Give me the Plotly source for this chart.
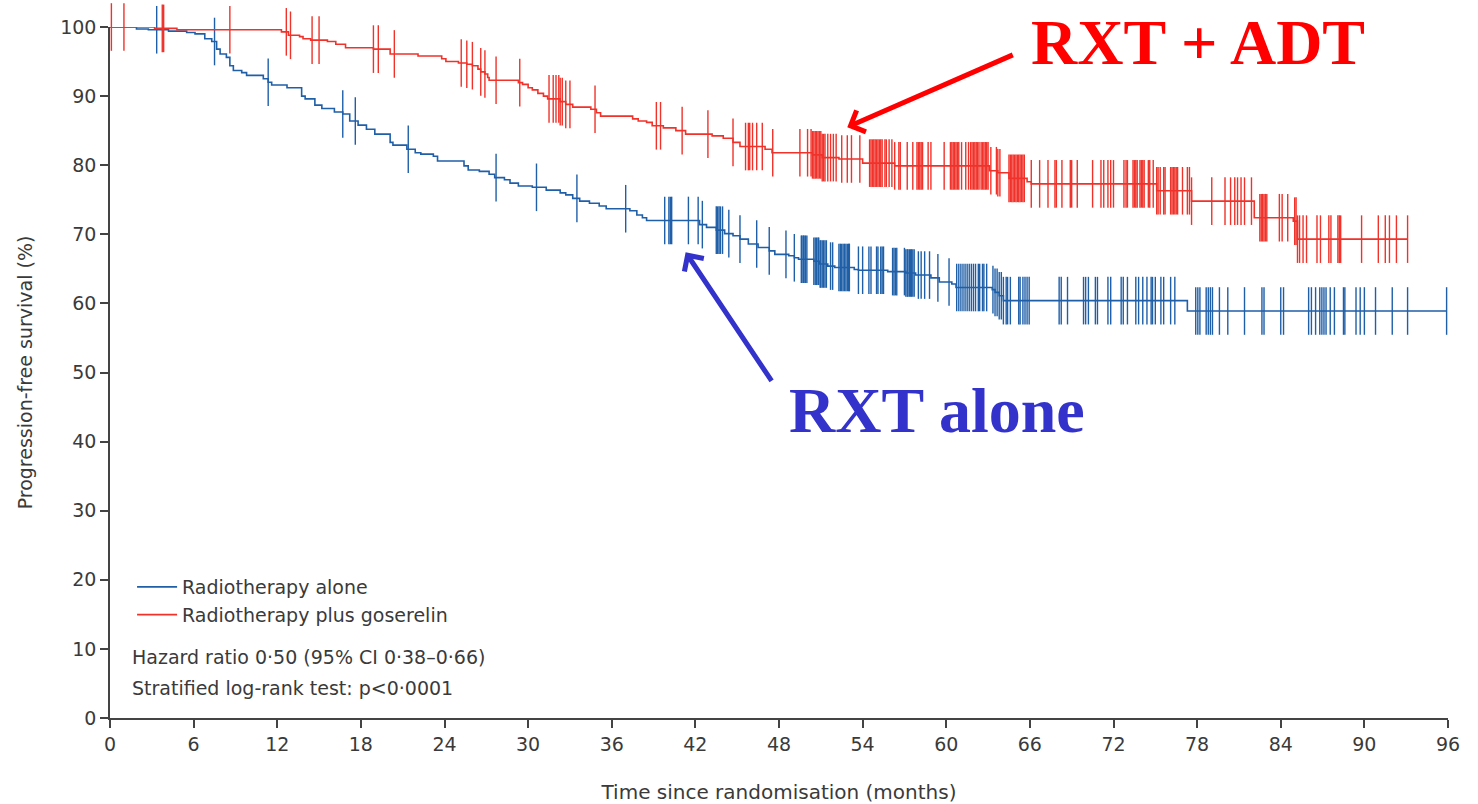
import bisect
import plotly.graph_objects as go

# Kaplan-Meier steps: event times (months) and survival (%) after each step
rt_alone_times = [1.9, 2.75, 4.2, 5.5, 6.1, 6.8, 7.3, 7.65, 7.9, 8.35, 8.6, 8.85, 9.45, 9.8,
                  11.0, 11.35, 11.6, 12.7, 13.75, 14.0, 14.7, 15.2, 16.1, 16.7, 17.2, 17.8,
                  18.4, 19.0, 20.1, 20.3, 21.3, 21.9, 22.3, 23.2, 23.5, 25.4, 25.7, 26.5,
                  27.2, 27.6, 28.3, 28.7, 29.3, 30.3, 31.3, 32.3, 32.7, 33.2, 33.7, 34.4,
                  35.1, 35.6, 37.3, 37.8, 38.2, 38.5, 42.3, 42.8, 43.5, 44.1, 44.7, 45.2,
                  45.8, 46.5, 47.3, 47.7, 48.7, 49.1, 49.4, 50.5, 50.9, 51.5, 52.0, 53.4,
                  53.7, 55.8, 57.1, 57.8, 58.9, 59.5, 60.4, 60.7, 63.3, 63.5, 63.8, 64.1, 77.3]
rt_alone_surv = [99.7, 99.6, 99.4, 99.2, 99.0, 98.3, 97.9, 96.8, 96.1, 95.6, 94.4, 93.7, 93.4,
                 93.0, 92.5, 92.0, 91.6, 91.2, 90.0, 89.6, 88.7, 88.2, 87.7, 87.4, 86.4, 85.8,
                 85.2, 84.5, 83.3, 82.9, 82.3, 81.8, 81.6, 81.3, 80.6, 79.9, 79.3, 79.1, 78.7,
                 78.2, 77.9, 77.4, 77.0, 76.8, 76.4, 76.0, 75.7, 75.2, 74.8, 74.5, 74.1, 73.7,
                 73.4, 72.8, 72.4, 72.0, 71.4, 71.0, 70.6, 70.1, 69.8, 69.3, 68.6, 68.1, 67.6,
                 67.1, 66.9, 66.6, 66.4, 66.1, 65.7, 65.4, 65.2, 64.9, 64.8, 64.6, 64.4, 64.1,
                 63.7, 63.1, 62.8, 62.3, 62.0, 61.6, 61.1, 60.4, 58.9]
rt_alone_censored = [3.35, 7.5, 11.35, 16.7, 17.6, 21.4, 27.7, 30.6, 33.5, 37.0, 39.8, 40.1,
                     40.2, 40.3, 41.5, 42.2, 42.5, 43.5, 43.6, 43.7, 43.8, 43.95, 44.4, 45.2,
                     46.4, 47.3, 48.5, 49.1, 49.6, 49.65, 49.75, 49.8, 49.9, 50.0, 50.5, 50.6,
                     50.7, 50.8, 50.85, 50.95, 51.0, 51.1, 51.2, 51.3, 51.4, 51.7, 51.85, 52.3,
                     52.4, 52.5, 52.6, 52.7, 52.8, 52.9, 53.0, 53.05, 53.7, 54.0, 54.45, 54.6,
                     55.0, 55.1, 55.3, 55.4, 55.5, 56.15, 56.25, 56.35, 56.45, 57.0, 57.1, 57.2,
                     57.25, 57.35, 57.45, 57.5, 57.6, 57.7, 58.0, 58.2, 58.45, 58.8, 59.4, 60.2,
                     60.75, 60.9, 61.05, 61.2, 61.35, 61.5, 61.65, 61.8, 61.95, 62.1, 62.3, 62.4,
                     62.6, 62.7, 62.9, 63.35, 63.5, 63.65, 63.8, 63.95, 64.1, 64.3, 64.4, 64.6,
                     65.2, 65.3, 65.5, 65.65, 65.8, 65.95, 68.1, 68.25, 68.7, 69.85, 70.0, 70.2,
                     70.7, 70.85, 71.6, 71.8, 72.55, 72.7, 73.0, 73.6, 73.8, 74.1, 74.4, 74.7,
                     74.8, 75.0, 75.4, 75.6, 76.1, 76.4, 77.9, 78.05, 78.2, 78.65, 78.8, 78.95,
                     79.1, 79.6, 80.2, 81.4, 82.65, 82.8, 84.0, 84.2, 86.0, 86.2, 86.5, 86.8,
                     86.95, 87.1, 87.25, 87.55, 87.85, 88.5, 88.6, 89.4, 89.7, 90.0, 90.8, 92.0,
                     93.1, 95.9]

rt_gos_times = [3.2, 4.8, 12.3, 12.8, 13.6, 13.85, 14.4, 15.6, 16.2, 16.9, 18.9, 20.1, 22.1,
                23.8, 24.1, 25.0, 25.6, 26.0, 26.4, 26.6, 26.9, 27.1, 27.2, 29.3, 29.6, 30.0,
                30.3, 30.7, 31.1, 31.4, 32.3, 32.7, 33.2, 34.5, 34.9, 35.2, 37.5, 37.9, 38.5,
                38.9, 39.7, 40.6, 41.3, 43.2, 44.0, 44.7, 45.2, 47.0, 47.5, 50.4, 51.1, 52.3,
                54.0, 56.3, 63.1, 63.7, 64.5, 65.8, 66.1, 75.1, 77.6, 82.1, 84.9, 85.2]
rt_gos_surv = [99.8, 99.6, 99.3, 98.8, 98.6, 98.3, 98.1, 97.9, 97.5, 97.0, 96.8, 96.1, 95.8,
               95.4, 95.0, 94.8, 94.6, 94.4, 93.9, 93.5, 93.2, 92.7, 92.3, 91.95, 91.7, 91.2,
               90.9, 90.4, 90.0, 89.6, 89.2, 88.8, 88.4, 88.1, 87.6, 87.1, 86.7, 86.4, 86.2,
               85.7, 85.4, 85.0, 84.5, 84.25, 83.9, 83.3, 82.7, 82.3, 81.8, 81.5, 81.1, 80.9,
               80.3, 79.9, 79.2, 78.9, 78.1, 77.6, 77.3, 76.3, 74.8, 72.4, 71.9, 69.3]
rt_gos_censored = [0.1, 1.0, 3.75, 3.85, 8.6, 12.65, 12.95, 14.5, 15.0, 18.9, 19.25, 20.4,
                   25.2, 25.6, 26.0, 26.6, 26.9, 27.7, 29.4, 31.5, 31.8, 32.0, 32.2, 32.3,
                   32.45, 32.7, 33.0, 34.8, 39.2, 39.5, 41.05, 42.9, 44.7, 45.6, 45.8, 45.9,
                   46.1, 46.4, 46.8, 47.55, 49.5, 50.05, 50.3, 50.4, 50.5, 50.6, 50.7, 50.8,
                   50.9, 51.0, 51.1, 51.2, 51.3, 51.5, 51.7, 51.9, 52.1, 52.5, 52.9, 53.2,
                   53.8, 54.5, 54.6, 54.7, 54.8, 54.9, 55.0, 55.1, 55.2, 55.3, 55.4, 55.6,
                   55.7, 55.9, 56.1, 56.3, 56.6, 56.7, 57.2, 57.6, 57.9, 58.0, 58.1, 58.2,
                   58.3, 58.7, 58.9, 59.85, 60.3, 60.4, 60.5, 60.6, 60.7, 60.8, 60.9, 61.1,
                   61.4, 61.6, 61.75, 61.85, 61.95, 62.05, 62.15, 62.25, 62.35, 62.5, 62.6,
                   62.7, 62.8, 62.9, 63.0, 63.2, 63.6, 63.7, 63.85, 64.5, 64.6, 64.7, 64.8,
                   64.9, 65.0, 65.1, 65.2, 65.3, 65.4, 65.5, 65.6, 66.1, 66.7, 67.3, 67.8,
                   67.9, 68.3, 68.9, 69.0, 69.4, 70.5, 71.1, 71.3, 71.6, 71.8, 72.0, 72.75,
                   72.9, 73.0, 73.4, 73.5, 73.6, 73.7, 73.9, 74.0, 74.1, 74.2, 74.5, 74.6,
                   74.85, 75.1, 75.2, 75.35, 75.6, 75.7, 76.1, 76.2, 76.3, 76.4, 76.5, 76.6,
                   76.95, 77.3, 77.45, 77.6, 79.05, 80.0, 80.4, 80.7, 80.9, 81.15, 81.4, 81.9,
                   82.5, 82.6, 82.7, 82.8, 82.9, 83.0, 83.9, 84.1, 84.5, 85.0, 85.1, 85.2,
                   85.35, 85.6, 85.85, 86.6, 86.85, 87.45, 87.6, 88.1, 88.2, 88.3, 89.8, 91.0,
                   91.5, 91.8, 92.3, 93.1]

x_ticks = list(range(0, 97, 6))
y_ticks = list(range(0, 101, 10))

stats_lines = ["Hazard ratio 0·50 (95% CI 0·38–0·66)", "Stratified log-rank test: p<0·0001"]

BLUE = "#1f5fa8"
RED = "#f0322a"
TEXT = "#3a3a3a"
FONT = "DejaVu Sans, Verdana, sans-serif"
SERIF = "Liberation Serif, Times New Roman, serif"


def step_path(times, surv, censored):
    end = max(censored[-1], times[-1])
    return [0] + times + [end], [100] + surv + [surv[-1]]


def surv_at(times, surv, t):
    i = bisect.bisect_right(times, t)
    return 100 if i == 0 else surv[i - 1]


fig = go.Figure()
for name, times, surv, cens, color in [
    ("Radiotherapy alone", rt_alone_times, rt_alone_surv, rt_alone_censored, BLUE),
    ("Radiotherapy plus goserelin", rt_gos_times, rt_gos_surv, rt_gos_censored, RED),
]:
    sx, sy = step_path(times, surv, cens)
    fig.add_trace(go.Scatter(x=sx, y=sy, mode="lines", line=dict(color=color, width=1.6, shape="hv"),
                             showlegend=False, hoverinfo="skip", cliponaxis=False))
    fig.add_trace(go.Scatter(x=cens, y=[surv_at(times, surv, t) for t in cens], mode="markers",
                             marker=dict(symbol="line-ns", size=34, line=dict(color=color, width=1.4)),
                             showlegend=False, cliponaxis=False))
    fig.add_trace(go.Scatter(x=[None], y=[None], mode="lines", name=name,
                             line=dict(color=color, width=1.6)))

# Statistics block, one annotation per line for even spacing
for i, line in enumerate(stats_lines):
    fig.add_annotation(x=0, y=0, xref="x domain", yref="y domain", xanchor="left", yanchor="middle",
                       xshift=20, yshift=61 - 31 * i, align="left", showarrow=False, text=line,
                       font=dict(family=FONT, size=19, color=TEXT))

# Callout labels and arrows
fig.add_annotation(x=1.0, y=1.0, xref="x domain", yref="y domain", xanchor="center", yanchor="middle",
                   xshift=-250, yshift=-15, text="<b>RXT + ADT</b>", showarrow=False,
                   font=dict(family=SERIF, size=64, color="#ff0000"))
fig.add_annotation(x=52.9, y=85.5, ax=167, ay=-73, axref="pixel", ayref="pixel", text="",
                   showarrow=True, arrowhead=4, arrowsize=0.9, arrowwidth=5, arrowcolor="#ff0000")
fig.add_annotation(x=0.0, y=0.0, xref="x domain", yref="y domain", xanchor="center", yanchor="middle",
                   xshift=827, yshift=308, text="<b>RXT alone</b>", showarrow=False,
                   font=dict(family=SERIF, size=64, color="#3333cc"))
fig.add_annotation(x=41.3, y=67.4, ax=87, ay=130, axref="pixel", ayref="pixel", text="",
                   showarrow=True, arrowhead=4, arrowsize=0.9, arrowwidth=5, arrowcolor="#3333cc")

axis_common = dict(showline=True, linecolor="#444444", linewidth=1.6, ticks="outside", ticklen=8,
                   tickwidth=1.5, tickcolor="#444444", showgrid=False, zeroline=False,
                   automargin=False, tickfont=dict(family=FONT, size=19, color=TEXT))
fig.update_xaxes(range=[0, 96], tickvals=x_ticks, title=dict(text="Time since randomisation (months)",
                 font=dict(family=FONT, size=20, color=TEXT), standoff=36), **axis_common)
fig.update_yaxes(range=[0, 100], tickvals=y_ticks, title=dict(text="Progression-free survival (%)",
                 font=dict(family=FONT, size=19, color=TEXT), standoff=22), **axis_common)

fig.update_layout(
    width=1478, height=804, plot_bgcolor="white", paper_bgcolor="white",
    margin=dict(l=110, r=30, t=27, b=86),
    legend=dict(x=0.0165, y=0.217, xanchor="left", yanchor="top", bgcolor="rgba(0,0,0,0)",
                font=dict(family=FONT, size=19, color=TEXT), itemwidth=40, tracegroupgap=0),
)

fig.write_html("out.html")
